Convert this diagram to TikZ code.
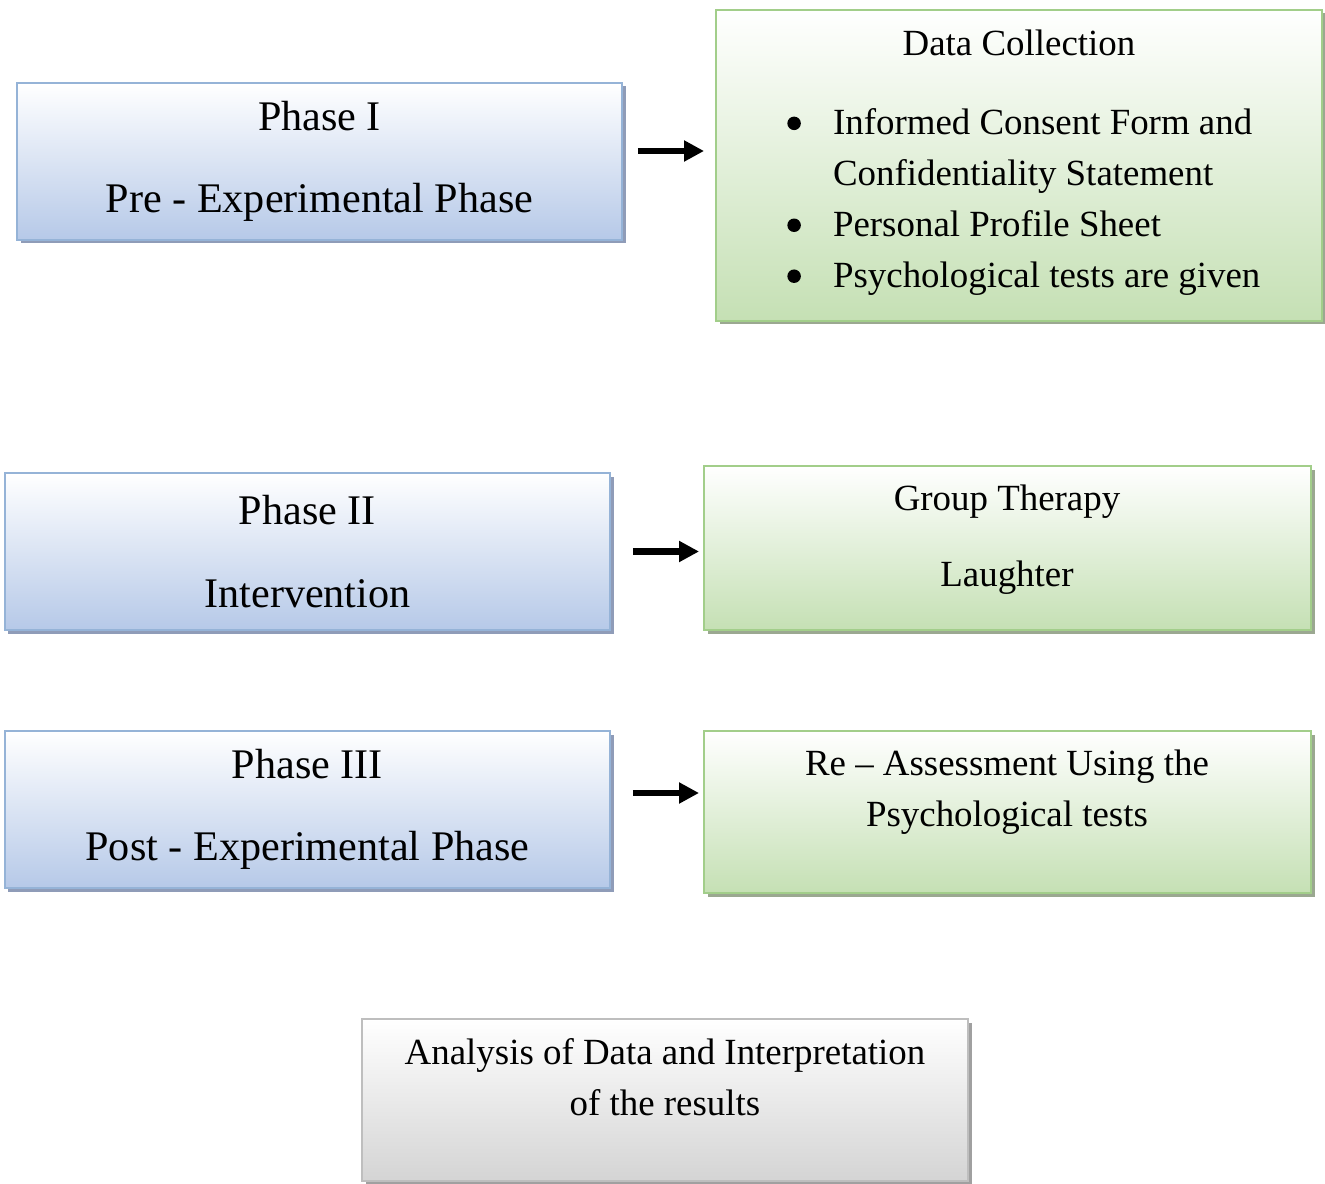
\documentclass[tikz,border=0pt]{standalone}
\usepackage{fontspec}
\setmainfont{Liberation Serif}
\usepackage{tikz}
\usetikzlibrary{arrows.meta,shadows}
\definecolor{phaseline}{RGB}{149,179,215}
\definecolor{phasefill}{RGB}{182,201,232}
\definecolor{phaseshadow}{RGB}{143,156,184}
\definecolor{resline}{RGB}{162,206,138}
\definecolor{resfill}{RGB}{197,224,180}
\definecolor{resshadow}{RGB}{155,168,145}
\definecolor{endline}{RGB}{190,190,190}
\definecolor{endfill}{RGB}{212,212,212}
\definecolor{endshadow}{RGB}{160,160,160}
\newcommand{\itemdot}{\makebox[26pt][l]{\tikz[baseline=0pt]\fill (0.13cm, 0.22cm) circle (0.135cm);}}
\tikzset{
    box/.style={rectangle, line width=1.1pt, inner sep=0mm, top color=white, minimum width=12.1cm},
    phase/.style={box, draw=phaseline, bottom color=phasefill, minimum height=3.14cm,
        drop shadow={shadow xshift=0.07cm, shadow yshift=-0.07cm, fill=phaseshadow, opacity=1},
        align=center, font=\fontsize{24}{47}\selectfont},
    res/.style={box, draw=resline, bottom color=resfill,
        drop shadow={shadow xshift=0.07cm, shadow yshift=-0.07cm, fill=resshadow, opacity=1}},
    final/.style={box, draw=endline, bottom color=endfill,
        drop shadow={shadow xshift=0.07cm, shadow yshift=-0.07cm, fill=endshadow, opacity=1}},
    boxtext/.style={inner sep=0mm, anchor=north, align=center, font=\fontsize{21}{29}\selectfont},
    flow/.style={line width=0.13cm, -{Triangle[length=0.4cm, width=0.4cm]}}
}

\begin{document}
\begin{tikzpicture}
        \useasboundingbox (0cm, 0cm) rectangle (26.500000cm, -23.680000cm);
        \node (p1) [phase] at (6.390000cm, -3.230000cm) {Phase I\\Pre - Experimental Phase};
        \node (p2) [phase] at (6.150000cm, -11.030000cm) {Phase II\\Intervention};
        \node (p3) [phase] at (6.150000cm, -16.190000cm) {Phase III\\Post - Experimental Phase};
        \node (d1) [res, minimum width=12.12cm, minimum height=6.22cm] at (20.380000cm, -3.310000cm) {};
        \node (d2) [res, minimum width=12.14cm, minimum height=3.28cm] at (20.150000cm, -10.960000cm) {};
        \node (d3) [res, minimum width=12.14cm, minimum height=3.24cm] at (20.150000cm, -16.240000cm) {};
        \node (an) [final, minimum width=12.12cm, minimum height=3.24cm] at (13.300000cm, -22.000000cm) {};
        \node (d1t) [boxtext] at (20.380000cm, -0.600000cm) {Data Collection};
        \node (d1l) [boxtext, anchor=north west, align=left] at (15.740000cm, -2.160000cm) {
\itemdot Informed Consent Form and\\
\hspace*{26pt}Confidentiality Statement\\
\itemdot Personal Profile Sheet\\
\itemdot Psychological tests are given};
        \node (d2t) [boxtext, font=\fontsize{21}{43}\selectfont] at (20.140000cm, -9.700000cm) {Group Therapy\\Laughter};
        \node (d3t) [boxtext, font=\fontsize{21}{28.5}\selectfont] at (20.140000cm, -15.000000cm) {Re – Assessment Using the\\Psychological tests};
        \node (ant) [boxtext] at (13.300000cm, -20.760000cm) {Analysis of Data and Interpretation\\of the results};
        \draw [flow, shorten <=0.3cm, shorten >=0.22cm] ([yshift=0.21cm]p1.east) -- ([yshift=0.21cm]p1.east -| d1.west);
        \draw [flow, shorten <=0.44cm, shorten >=0.08cm] (p2.east) -- (p2.east -| d2.west);
        \draw [flow, shorten <=0.44cm, shorten >=0.08cm] ([yshift=0.33cm]p3.east) -- ([yshift=0.33cm]p3.east -| d3.west);
\end{tikzpicture}
\end{document}
